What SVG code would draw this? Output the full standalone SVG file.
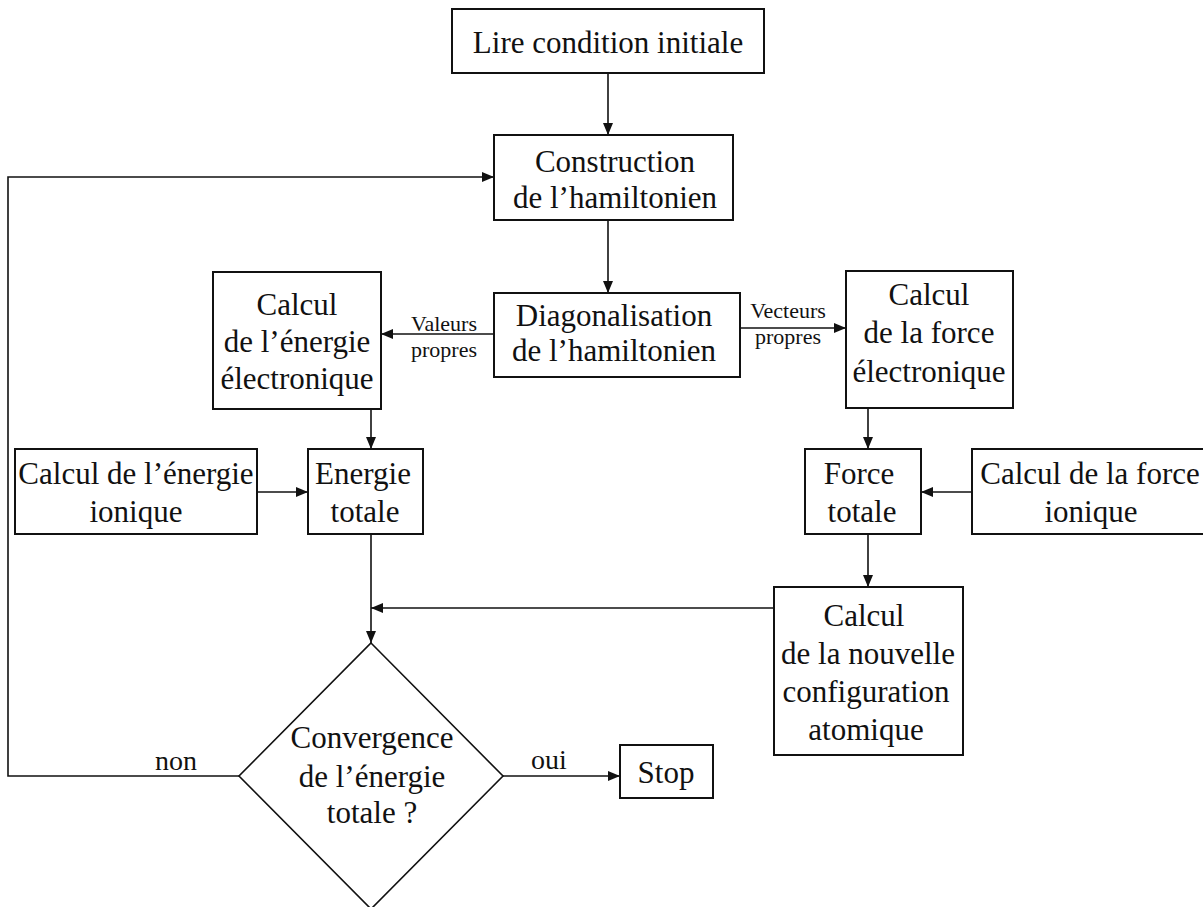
<svg xmlns="http://www.w3.org/2000/svg" width="1203" height="907" viewBox="0 0 1203 907">
<style>
  .box { fill: #fff; stroke: #111; stroke-width: 2; }
  .ln { fill: none; stroke: #111; stroke-width: 1.6; }
  .t { font-family: "Liberation Serif", "Times New Roman", serif; font-size: 31px; fill: #111; text-anchor: middle; }
  .s { font-family: "Liberation Serif", "Times New Roman", serif; font-size: 22px; fill: #111; text-anchor: middle; }
</style>
<defs>
  <marker id="ah" viewBox="0 0 12 10" refX="12" refY="5" markerWidth="12" markerHeight="10" markerUnits="userSpaceOnUse" orient="auto">
    <path d="M0,0 L12,5 L0,10 Z" fill="#111"/>
  </marker>
</defs>
<rect width="1203" height="907" fill="#fff"/>

<g id="connectors">
  <line class="ln" x1="608" y1="73" x2="608" y2="135" marker-end="url(#ah)"/>
  <line class="ln" x1="608" y1="220" x2="608" y2="293" marker-end="url(#ah)"/>
  <line class="ln" x1="494" y1="334" x2="381" y2="334" marker-end="url(#ah)"/>
  <line class="ln" x1="740" y1="328" x2="846" y2="328" marker-end="url(#ah)"/>
  <line class="ln" x1="371" y1="409" x2="371" y2="449" marker-end="url(#ah)"/>
  <line class="ln" x1="257" y1="492" x2="308" y2="492" marker-end="url(#ah)"/>
  <line class="ln" x1="868" y1="408" x2="868" y2="449" marker-end="url(#ah)"/>
  <line class="ln" x1="972" y1="492" x2="921" y2="492" marker-end="url(#ah)"/>
  <line class="ln" x1="868" y1="534" x2="868" y2="587" marker-end="url(#ah)"/>
  <line class="ln" x1="371" y1="534" x2="371" y2="643" marker-end="url(#ah)"/>
  <line class="ln" x1="774" y1="608" x2="371" y2="608" marker-end="url(#ah)"/>
  <line class="ln" x1="503" y1="776" x2="620" y2="776" marker-end="url(#ah)"/>
  <polyline class="ln" points="239,776 8,776 8,177 494,177" marker-end="url(#ah)"/>
  <text class="s" x="444" y="331">Valeurs</text>
  <text class="s" x="444" y="357">propres</text>
  <text class="s" x="788" y="318">Vecteurs</text>
  <text class="s" x="788" y="344">propres</text>
  <text class="t" x="549" y="769" style="font-size:28px">oui</text>
  <text class="t" x="176" y="770" style="font-size:28px">non</text>
</g>

<g id="lire">
  <rect class="box" x="452" y="9" width="312" height="64"/>
  <text class="t" x="608" y="53">Lire condition initiale</text>
</g>

<g id="construction">
  <rect class="box" x="494" y="135" width="239" height="85"/>
  <text class="t" x="615" y="172">Construction</text>
  <text class="t" x="615" y="208">de l’hamiltonien</text>
</g>

<g id="diagonalisation">
  <rect class="box" x="494" y="293" width="246" height="84"/>
  <text class="t" x="614" y="326">Diagonalisation</text>
  <text class="t" x="614" y="361">de l’hamiltonien</text>
</g>

<g id="energie-electronique">
  <rect class="box" x="213" y="272" width="168" height="137"/>
  <text class="t" x="297" y="315">Calcul</text>
  <text class="t" x="297" y="352">de l’énergie</text>
  <text class="t" x="297" y="389">électronique</text>
</g>

<g id="force-electronique">
  <rect class="box" x="846" y="271" width="167" height="137"/>
  <text class="t" x="929" y="305">Calcul</text>
  <text class="t" x="929" y="343">de la force</text>
  <text class="t" x="929" y="382">électronique</text>
</g>

<g id="energie-ionique">
  <rect class="box" x="15" y="449" width="242" height="85"/>
  <text class="t" x="136" y="484">Calcul de l’énergie</text>
  <text class="t" x="136" y="522">ionique</text>
</g>

<g id="energie-totale">
  <rect class="box" x="308" y="449" width="115" height="85"/>
  <text class="t" x="363" y="484">Energie</text>
  <text class="t" x="365" y="522">totale</text>
</g>

<g id="force-totale">
  <rect class="box" x="805" y="449" width="116" height="85"/>
  <text class="t" x="859" y="484">Force</text>
  <text class="t" x="862" y="522">totale</text>
</g>

<g id="force-ionique">
  <rect class="box" x="972" y="449" width="245" height="85"/>
  <text class="t" x="1090" y="484">Calcul de la force</text>
  <text class="t" x="1091" y="522">ionique</text>
</g>

<g id="nouvelle-configuration">
  <rect class="box" x="774" y="587" width="189" height="168"/>
  <text class="t" x="864" y="626">Calcul</text>
  <text class="t" x="868" y="664">de la nouvelle</text>
  <text class="t" x="866" y="702">configuration</text>
  <text class="t" x="866" y="740">atomique</text>
</g>

<g id="convergence">
  <polygon class="box" style="stroke-width:1.6" points="371,643 503,776 371,909 239,776"/>
  <text class="t" x="372" y="748">Convergence</text>
  <text class="t" x="372" y="787">de l’énergie</text>
  <text class="t" x="372" y="823">totale ?</text>
</g>

<g id="stop">
  <rect class="box" x="620" y="745" width="93" height="53"/>
  <text class="t" x="666" y="783">Stop</text>
</g>
</svg>
